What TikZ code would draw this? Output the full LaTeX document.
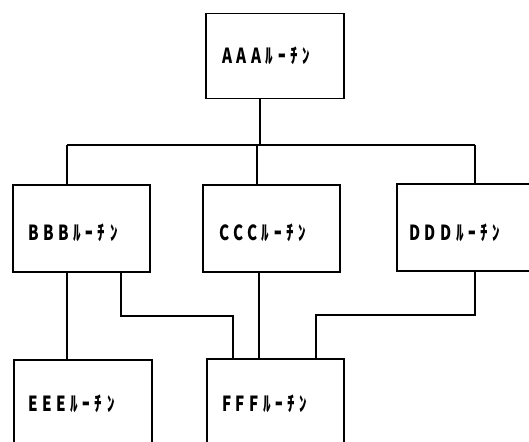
\documentclass[tikz,border=0pt]{standalone}
\usepackage{fontspec}
\usepackage{graphicx}
\newfontfamily\jpfont[LetterSpace=30]{Noto Sans CJK JP Black}
\newcommand{\tall}[1]{\scalebox{0.95}[1.3]{#1}}
\begin{document}
\begin{tikzpicture}[x=1pt,y=-1pt,
  box/.style={draw,line width=1.5pt,rectangle,inner sep=0pt,anchor=north west},
  lbl/.style={font=\jpfont\fontsize{16}{16}\selectfont,anchor=west,inner sep=0pt},
  link/.style={line width=1.5pt}]
\useasboundingbox (0,0) rectangle (529,441);
\clip (0,0) rectangle (529,441);
\node[box,minimum width=138pt,minimum height=85pt] (A) at (205,13) {};
\node[box,minimum width=137pt,minimum height=87pt] (B) at (12,184) {};
\node[box,minimum width=137pt,minimum height=87pt] (C) at (202,184) {};
\node[box,minimum width=150pt,minimum height=87pt] (D) at (396,183) {};
\node[box,minimum width=138pt,minimum height=100pt] (E) at (13,359) {};
\node[box,minimum width=137pt,minimum height=100pt] (F) at (206,358) {};
\node[lbl] (tA) at (222,56) {\tall{AAAﾙｰﾁﾝ}};
\node[lbl] (tB) at (28,233) {\tall{BBBﾙｰﾁﾝ}};
\node[lbl] (tC) at (219,233) {\tall{CCCﾙｰﾁﾝ}};
\node[lbl] (tD) at (409,233) {\tall{DDDﾙｰﾁﾝ}};
\node[lbl] (tE) at (28,404) {\tall{EEEﾙｰﾁﾝ}};
\node[lbl] (tF) at (222,404) {\tall{FFFﾙｰﾁﾝ}};
\coordinate (hL) at (67,145);
\coordinate (hR) at (475,145);
\draw[link] (hL) -- (hR);
\draw[link] (A.south -| 260,0) -- (260,145);
\draw[link] (hL) -- (hL |- B.north);
\draw[link] (257,145) -- (C.north -| 257,0);
\draw[link] (hR) -- (hR |- D.north);
\draw[link] (B.south -| 67,0) -- (E.north -| 67,0);
\draw[link] (B.south -| 121,0) -- (121,316) -- (233,316) -- (F.north -| 233,0);
\draw[link] (C.south -| 259,0) -- (F.north -| 259,0);
\draw[link] (D.south -| 475,0) -- (475,315) -- (316,315) -- (F.north -| 316,0);
\end{tikzpicture}
\end{document}
